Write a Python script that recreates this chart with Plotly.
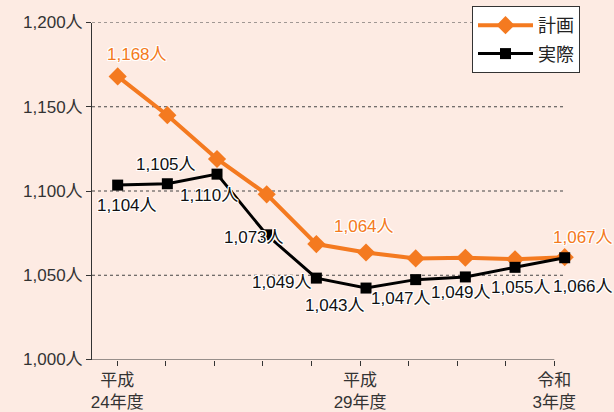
import plotly.graph_objects as go

# ---- data ----
years = ["平成24年度", "平成25年度", "平成26年度", "平成27年度", "平成28年度",
         "平成29年度", "平成30年度", "令和元年度", "令和2年度", "令和3年度"]
tick_text = ["平成<br>24年度", "", "", "", "", "平成<br>29年度", "", "", "", "令和<br>3年度"]
plan_values = [1168, 1145, 1119, 1098, 1068.5, 1063.5, 1060, 1060.4, 1059.5, 1060.7]
actual_values = [1103.5, 1104.3, 1110, 1074, 1048.3, 1042.4, 1047.4, 1049, 1054.7, 1060.4]
plan_labels = ["1,168人", "", "", "", "", "1,064人", "", "", "", "1,067人"]
actual_labels = ["1,104人", "1,105人", "1,110人", "1,073人", "1,049人",
                 "1,043人", "1,047人", "1,049人", "1,055人", "1,066人"]
y_ticks = [1000, 1050, 1100, 1150, 1200]
y_tick_text = ["1,000人", "1,050人", "1,100人", "1,150人", "1,200人"]

# ---- styling ----
ORANGE = "#F47A20"
BG = "#FDEBE3"
FONT = "Liberation Sans, Arial, Noto Sans CJK JP, sans-serif"
HALO = ("1px 1px 0 #fff, -1px -1px 0 #fff, 1px -1px 0 #fff, -1px 1px 0 #fff, "
        "0 1px 0 #fff, 0 -1px 0 #fff, 1px 0 0 #fff, -1px 0 0 #fff")
plan_offsets = [(19, 22), None, None, None, None, (-2, 26), None, None, None, (18, 20)]
actual_offsets = [(9, -20), (-1, 19), (-8, -21), (-13, -3), (-34, -4),
                  (-31, -17), (-15, -19), (-4, -16), (6, -20), (18, -29)]

xs = list(range(len(years)))

fig = go.Figure()
fig.add_trace(go.Scatter(
    x=xs, y=plan_values, name="計画", mode="lines+markers", legendgroup="a",
    line=dict(color=ORANGE, width=4),
    marker=dict(symbol="diamond", size=14, color=ORANGE),
    cliponaxis=False, hoverinfo="skip"))
fig.add_trace(go.Scatter(
    x=xs, y=actual_values, name="実際", mode="lines+markers", legendgroup="b",
    line=dict(color="#000", width=3),
    marker=dict(symbol="square", size=11, color="#000"),
    cliponaxis=False, hoverinfo="skip"))

annotations = []
for i, (v, t, off) in enumerate(zip(plan_values, plan_labels, plan_offsets)):
    if t:
        annotations.append(dict(x=i, y=v, xref="x", yref="y", text=t, showarrow=False,
                                xanchor="center", yanchor="middle",
                                xshift=off[0], yshift=off[1],
                                font=dict(family=FONT, size=17, color=ORANGE, shadow=HALO)))
for i, (v, t, off) in enumerate(zip(actual_values, actual_labels, actual_offsets)):
    if t:
        annotations.append(dict(x=i, y=v, xref="x", yref="y", text=t, showarrow=False,
                                xanchor="center", yanchor="middle",
                                xshift=off[0], yshift=off[1],
                                font=dict(family=FONT, size=17, color="#111", shadow=HALO)))

shapes = []
for v in y_ticks[1:]:
    shapes.append(dict(type="line", xref="x domain", x0=0, x1=1, yref="y", y0=v, y1=v,
                       line=dict(color="#444", width=1, dash="3px,3px"), layer="below"))
shapes.append(dict(type="line", xref="x2", x0=-0.521, x1=9, yref="y", y0=1000, y1=1000,
                   line=dict(color="#333", width=1)))

fig.update_layout(
    width=614, height=412,
    margin=dict(l=0, r=0, t=0, b=0),
    paper_bgcolor=BG, plot_bgcolor=BG,
    font=dict(family=FONT, size=17, color="#333"),
    showlegend=True,
    legend=dict(x=472 / 614, y=(412 - 6) / 412, xanchor="left", yanchor="top",
                bgcolor="#fff", bordercolor="#333", borderwidth=1,
                itemwidth=55, tracegroupgap=2,
                font=dict(size=18, color="#222")),
    annotations=annotations, shapes=shapes,
    xaxis=dict(domain=[92 / 614, 565 / 614], range=[-0.517, 9.006], visible=False,
               showgrid=False, zeroline=False, automargin=False),
    xaxis2=dict(overlaying="x", anchor="y", side="bottom", range=[-0.521, 9.22],
                tickmode="array", tickvals=xs, ticktext=tick_text,
                ticks="outside", ticklen=5, tickcolor="#333",
                showgrid=False, zeroline=False, showline=False, automargin=False,
                tickfont=dict(size=17, color="#333")),
    yaxis=dict(domain=[52.5 / 412, (412 - 22.5) / 412], range=[1000, 1200],
               tickmode="array", tickvals=y_ticks, ticktext=y_tick_text,
               ticks="outside", ticklen=5, tickcolor="#333",
               showline=True, linecolor="#333", linewidth=1,
               showgrid=False, zeroline=False, automargin=False,
               tickfont=dict(size=17, color="#333")),
)

fig.write_html(
    "out.html",
    config={"displayModeBar": False},
    post_script="document.body.style.margin='0';document.body.style.background='" + BG + "';",
)
